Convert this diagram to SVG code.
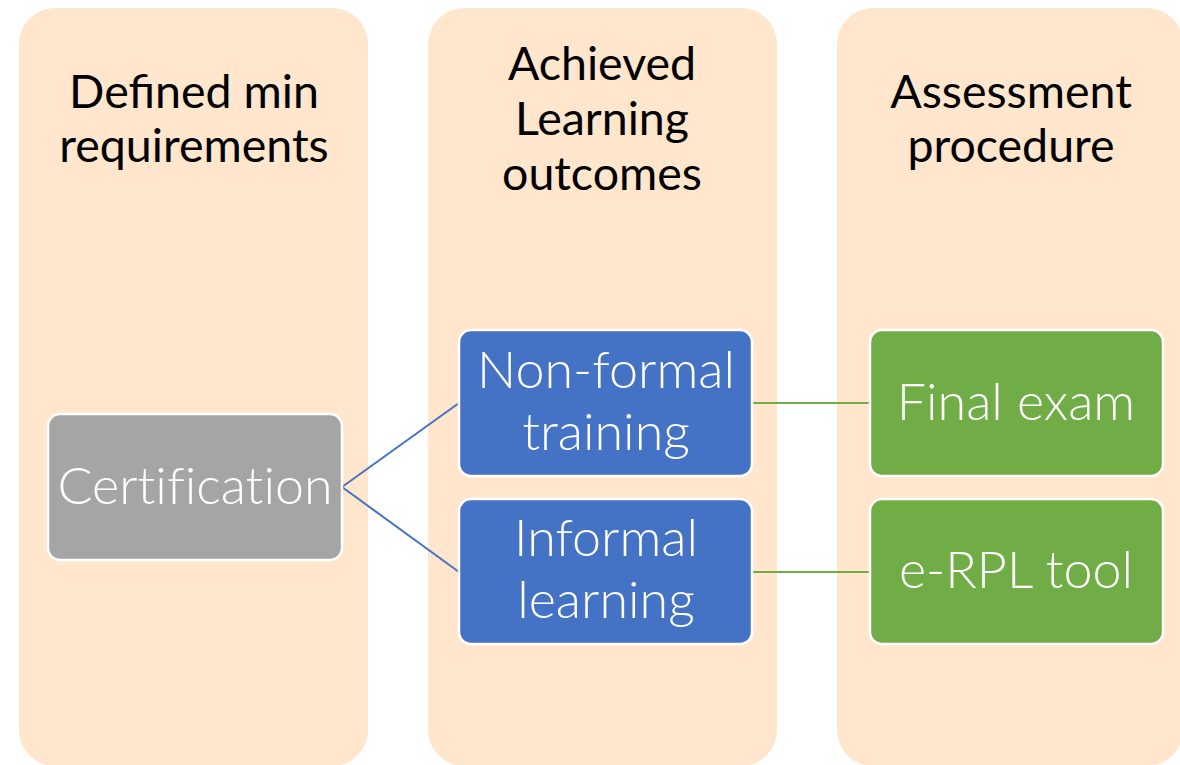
<svg xmlns="http://www.w3.org/2000/svg" width="1180" height="765" viewBox="0 0 1180 765">
<style>
.col{fill:#FFE6CC;}
.hdr{font-family:Lato,"Open Sans","Liberation Sans",sans-serif;font-size:46.5px;fill:#000;text-anchor:middle;}
.box{stroke:#fff;stroke-width:2.5;}
.lbl{font-family:Lato,"Open Sans","Liberation Sans",sans-serif;font-weight:300;font-size:52px;fill:#fff;text-anchor:middle;font-variant-ligatures:none;}
.cb{stroke:#4472C4;stroke-width:2;fill:none;}
.cg{stroke:#70AD47;stroke-width:2;fill:none;}
</style>
<rect width="1180" height="765" fill="#fff"/>
<g id="col1"><rect class="col" x="19" y="8" width="349" height="758" rx="36"/>
<text class="hdr" x="194" y="108">Defined min</text><text class="hdr" x="194" y="162">requirements</text></g>
<g id="col2"><rect class="col" x="428" y="8" width="349" height="758" rx="36"/>
<text class="hdr" x="602" y="80">Achieved</text><text class="hdr" x="602" y="135">Learning</text><text class="hdr" x="602" y="190">outcomes</text></g>
<g id="col3"><rect class="col" x="837" y="8" width="346" height="758" rx="36"/>
<text class="hdr" x="1011" y="108">Assessment</text><text class="hdr" x="1011" y="162">procedure</text></g>
<g id="connectors">
<path class="cb" d="M342 487 L459 403"/>
<path class="cb" d="M342 487 L459 572"/>
<path class="cg" d="M752 403 L870 403"/>
<path class="cg" d="M752 572 L870 572"/>
</g>
<g id="certification"><rect class="box" x="48" y="414" width="294" height="146" rx="12" fill="#A5A5A5"/>
<text class="lbl" x="195" y="504">Certification</text></g>
<g id="nonformal"><rect class="box" x="459" y="330" width="293" height="146" rx="12" fill="#4472C4"/>
<text class="lbl" x="606" y="388">Non-formal</text><text class="lbl" x="606" y="450">training</text></g>
<g id="informal"><rect class="box" x="459" y="499" width="293" height="145" rx="12" fill="#4472C4"/>
<text class="lbl" x="606" y="556">Informal</text><text class="lbl" x="606" y="618">learning</text></g>
<g id="finalexam"><rect class="box" x="870" y="330" width="293" height="146" rx="12" fill="#70AD47"/>
<text class="lbl" x="1016" y="420">Final exam</text></g>
<g id="erpl"><rect class="box" x="870" y="499" width="293" height="145" rx="12" fill="#70AD47"/>
<text class="lbl" x="1016" y="588">e-RPL tool</text></g>
</svg>
